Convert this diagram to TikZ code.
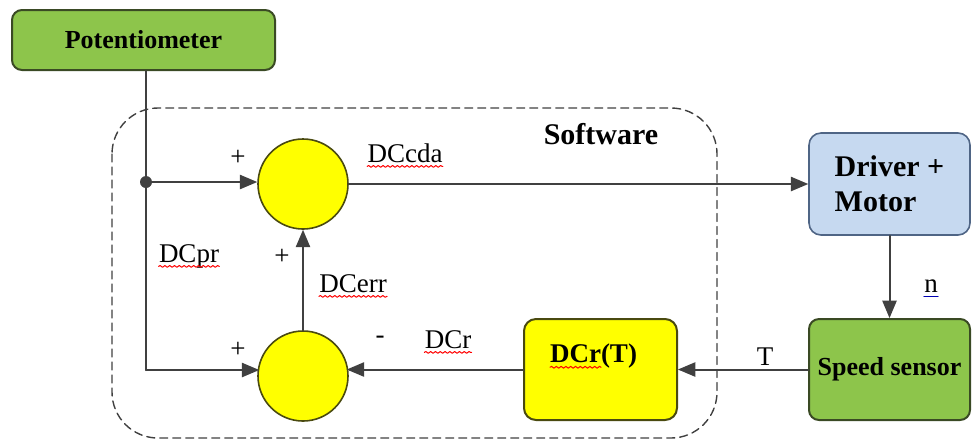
\documentclass[tikz,border=0pt]{standalone}
\usepackage{fontspec}
\setmainfont{Liberation Serif}
\usepackage{xcolor}
\usetikzlibrary{arrows,decorations.pathmorphing}
\definecolor{boxgreen}{HTML}{8DC54B}
\definecolor{greenedge}{HTML}{3A4A24}
\definecolor{boxblue}{HTML}{C6D9F0}
\definecolor{blueedge}{HTML}{4F6585}
\definecolor{sumyellow}{HTML}{FFFF00}
\definecolor{yellowedge}{HTML}{4A4A10}
\definecolor{wire}{HTML}{404040}

\tikzset{
  greenbox/.style={draw=greenedge, fill=boxgreen, line width=1pt, rounded corners=5pt,
    font=\fontsize{13}{15}\selectfont\bfseries},
  bluebox/.style={draw=blueedge, fill=boxblue, line width=0.8pt, rounded corners=6pt,
    font=\fontsize{15}{17.5}\selectfont\bfseries, align=left},
  yellowbox/.style={draw=yellowedge, fill=sumyellow, line width=1pt, rounded corners=6pt,
    font=\fontsize{13.5}{16}\selectfont\bfseries},
  sumnode/.style={circle, draw=yellowedge, fill=sumyellow, line width=0.8pt, minimum size=45pt},
  wireline/.style={draw=wire, line width=1pt},
  lbl/.style={inner sep=0pt, font=\fontsize{13.5}{16}\selectfont},
  spell/.style={draw=red, line width=0.5pt, decorate,
    decoration={snake, amplitude=0.45pt, segment length=2.4pt}}
}

\begin{document}
\begin{tikzpicture}[line cap=round,line join=round,>=triangle 45,x=0.5pt,y=-0.5pt]
\useasboundingbox (0,0) rectangle (972,441);
% software frame
\draw[dashed, draw=wire, line width=0.7pt, dash pattern=on 4pt off 2.5pt, rounded corners=23pt]
  (112,108) rectangle (717,438);
\node[font=\fontsize{15}{17.5}\selectfont\bfseries, anchor=base] (sw) at (601,144) {Software};

% blocks
\node[greenbox, minimum width=131.5pt, minimum height=30pt] (pot) at (143.5,40) {Potentiometer};
\node[bluebox, minimum width=80.5pt, minimum height=51pt] (drv) at (889.5,184) {Driver +\\Motor};
\node[greenbox, minimum width=80.5pt, minimum height=50.5pt] (spd) at (889.5,369.5) {Speed sensor};
\node[yellowbox, minimum width=76.5pt, minimum height=50.5pt, text depth=16pt] (dcrt) at (600.5,369.5) {\hspace*{-7pt}DCr(T)};
\node[sumnode] (sum1) at (303,184) {};
\node[sumnode] (sum2) at (303,376) {};

% wires
\coordinate (split) at (146,182);
\coordinate (corner) at (146,370);
\draw[wireline] (pot.south -| split) -- (corner);
\fill[wire] (split) circle (3pt);
\draw[wireline,->] (split) -- (split -| sum1.west);
\draw[wireline,->] (corner) -- ([xshift=1pt]corner -| sum2.west);
\draw[wireline,->] (sum1.east) -- (drv.west);
\draw[wireline,->] (drv.south) -- (spd.north);
\draw[wireline,->] (spd.west) -- (dcrt.east);
\draw[wireline,->] (dcrt.west) -- ([xshift=-1pt]dcrt.west -| sum2.east);
\draw[wireline,->] (sum2.north) -- (sum1.south);

% labels
\node[lbl, anchor=base] (dccda) at (405,162) {DCcda};
\node[lbl, anchor=base] (dcpr) at (189,262) {DCpr};
\node[lbl, anchor=base] (dcerr) at (353,292) {DCerr};
\node[lbl, anchor=base] (dcr) at (448,348) {DCr};
\node[lbl] (minus) at (380,340) {-};
\node[lbl] (plus1) at (238,158) {+};
\node[lbl] (plus2) at (282,257) {+};
\node[lbl] (plus3) at (238,350) {+};
\node[lbl, anchor=base] (tlbl) at (765,365) {T};
\node[lbl, anchor=base] (nlbl) at (931,292) {n};

% spelling marks
\foreach \l in {dccda,dcpr,dcerr,dcr}
  \draw[spell] ([yshift=-2.2pt]\l.base west) -- ([yshift=-2.2pt]\l.base east);
\draw[spell] ([yshift=-2.2pt,xshift=-7pt]dcrt.text) -- ([yshift=-2.2pt,xshift=18.5pt]dcrt.text);
\draw[blue!70!black, line width=0.5pt] ([yshift=-2pt]nlbl.base west) -- ([yshift=-2pt]nlbl.base east);
\end{tikzpicture}
\end{document}
